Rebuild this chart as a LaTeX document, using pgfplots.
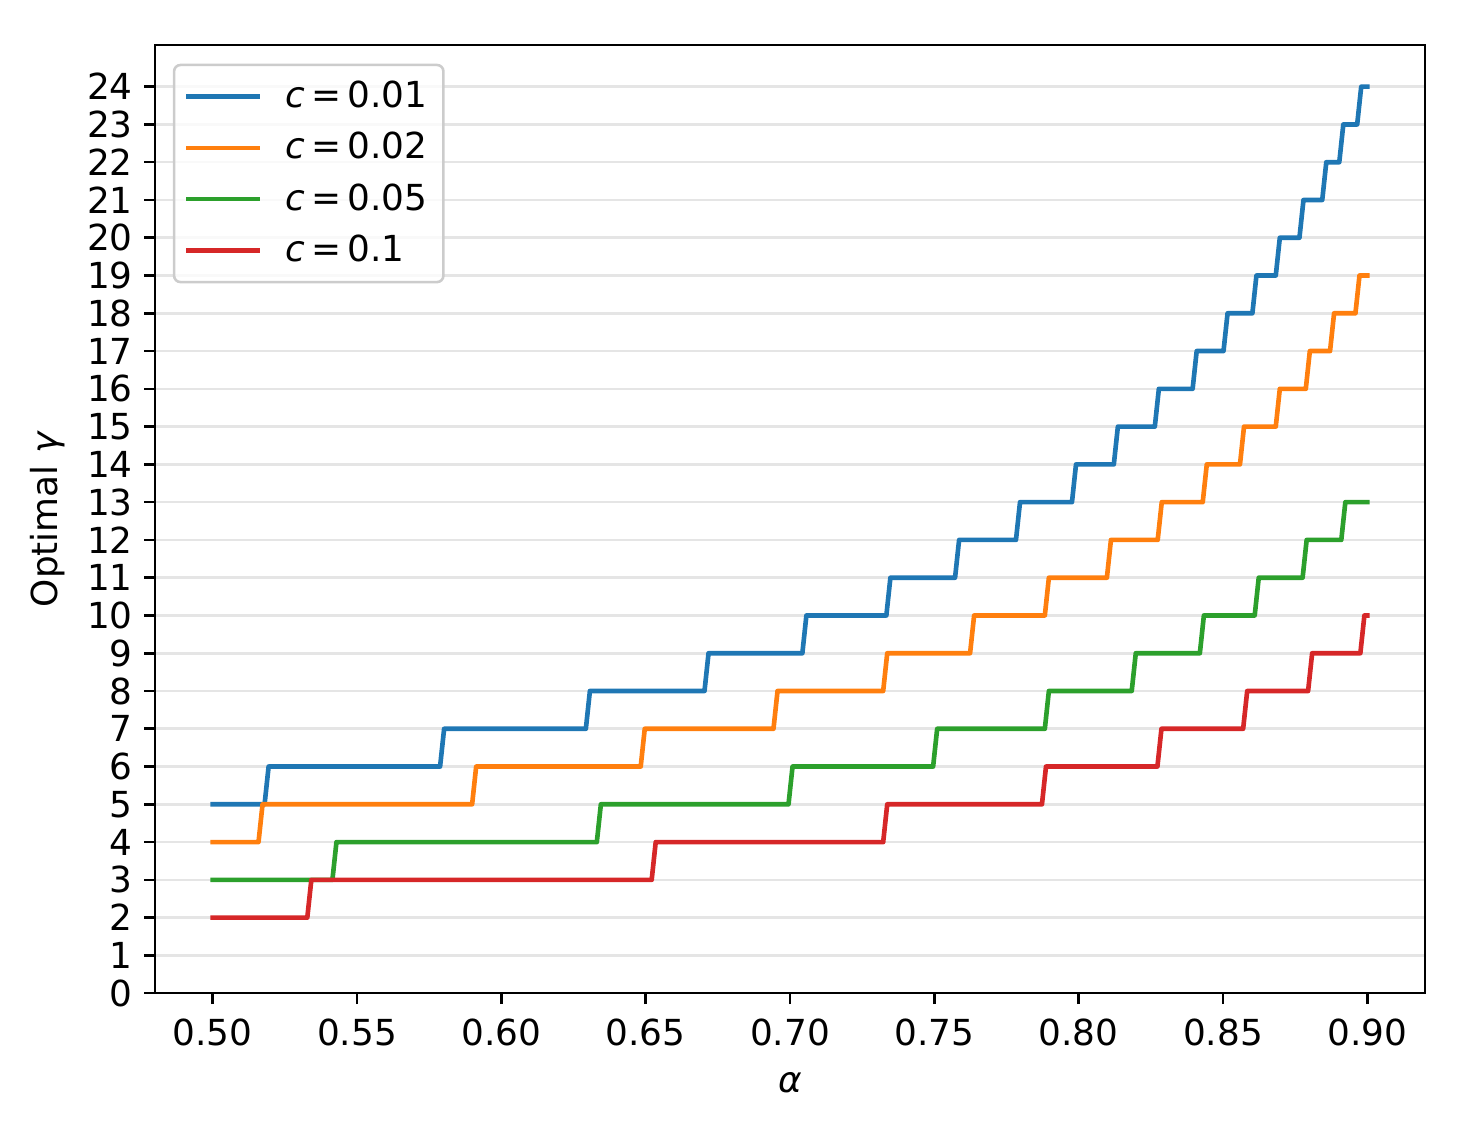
\documentclass[border=0pt]{standalone}
\usepackage{fontspec}
\setmainfont{DejaVu Sans}
\usepackage{pgfplots}
\pgfplotsset{compat=1.18}
\definecolor{tabblue}{HTML}{1F77B4}
\definecolor{taborange}{HTML}{FF7F0E}
\definecolor{tabgreen}{HTML}{2CA02C}
\definecolor{tabred}{HTML}{D62728}
\begin{document}
\begin{tikzpicture}
\begin{axis}[
  scale only axis,
  width=396.9pt, height=296.25pt,
  xmin=0.48, xmax=0.92, ymin=0, ymax=25.1,
  xtick={0.50,0.55,0.60,0.65,0.70,0.75,0.80,0.85,0.90},
  ytick={0,1,...,24},
  /pgf/number format/assume math mode=true,
  tick label style={font=\fontsize{11.2}{13}\selectfont},
  xticklabel style={yshift=-1.2pt, /pgf/number format/fixed, /pgf/number format/fixed zerofill, /pgf/number format/precision=2},
  label style={font=\fontsize{11.2}{13}\selectfont},
  xlabel style={yshift=-1.4pt},
  ymajorgrids,
  grid style={draw=black!10, line width=0.8pt},
  axis line style={line width=0.8pt},
  tick style={line width=0.8pt, black},
  tick align=outside, tick pos=left,
  major tick length=3.4pt,
  xlabel={\textit{α}},
  ylabel={Optimal \textit{γ}},
  every axis plot/.append style={line width=1.45pt, line join=round, line cap=rect},
  legend cell align=left,
  legend style={at={(0,1)}, anchor=north west, xshift=5.6pt, yshift=-5.8pt,
    draw=black!20, line width=0.8pt, rounded corners=2pt, fill=white, fill opacity=0.8, text opacity=1,
    font=\fontsize{11.2}{13}\selectfont, row sep=2.2pt, column sep=5.5pt, inner xsep=3pt, inner ysep=3pt},
  legend image code/.code={\draw[#1, line cap=butt] (0pt,0pt) -- (23pt,0pt);},
]
\addplot[tabblue] coordinates {(0.5,5) (0.5180,5) (0.5194,6) (0.5788,6) (0.5802,7) (0.6293,7) (0.6307,8) (0.6704,8) (0.6718,9) (0.7043,9) (0.7057,10) (0.7334,10) (0.7348,11) (0.7572,11) (0.7586,12) (0.7783,12) (0.7797,13) (0.7977,13) (0.7991,14) (0.8122,14) (0.8136,15) (0.8264,15) (0.8278,16) (0.8395,16) (0.8409,17) (0.8502,17) (0.8516,18) (0.8602,18) (0.8616,19) (0.8683,19) (0.8697,20) (0.8765,20) (0.8779,21) (0.8844,21) (0.8858,22) (0.8903,22) (0.8917,23) (0.8965,23) (0.8979,24) (0.9,24)};
\addlegendentry{\textit{c}\,=\,0.01}
\addplot[taborange] coordinates {(0.5,4) (0.5159,4) (0.5173,5) (0.5899,5) (0.5913,6) (0.6483,6) (0.6497,7) (0.6943,7) (0.6957,8) (0.7323,8) (0.7337,9) (0.7624,9) (0.7638,10) (0.7883,10) (0.7897,11) (0.8098,11) (0.8112,12) (0.8274,12) (0.8288,13) (0.8430,13) (0.8444,14) (0.8559,14) (0.8573,15) (0.8683,15) (0.8697,16) (0.8787,16) (0.8801,17) (0.8871,17) (0.8885,18) (0.8959,18) (0.8973,19) (0.9,19)};
\addlegendentry{\textit{c}\,=\,0.02}
\addplot[tabgreen] coordinates {(0.5,3) (0.5415,3) (0.5429,4) (0.6331,4) (0.6345,5) (0.6995,5) (0.7009,6) (0.7496,6) (0.7510,7) (0.7883,7) (0.7897,8) (0.8184,8) (0.8198,9) (0.8420,9) (0.8434,10) (0.8610,10) (0.8624,11) (0.8776,11) (0.8790,12) (0.8910,12) (0.8924,13) (0.9,13)};
\addlegendentry{\textit{c}\,=\,0.05}
\addplot[tabred] coordinates {(0.5,2) (0.5328,2) (0.5342,3) (0.6521,3) (0.6535,4) (0.7323,4) (0.7337,5) (0.7873,5) (0.7887,6) (0.8273,6) (0.8287,7) (0.8570,7) (0.8584,8) (0.8795,8) (0.8809,9) (0.8976,9) (0.8990,10) (0.9,10)};
\addlegendentry{\textit{c}\,=\,0.1}
\end{axis}
\pgfresetboundingbox
\path[use as bounding box] ([shift={(-48.4pt,-44.1pt)}]current axis.south west) rectangle ([shift={(13.75pt,14.1pt)}]current axis.north east);
\end{tikzpicture}
\end{document}
